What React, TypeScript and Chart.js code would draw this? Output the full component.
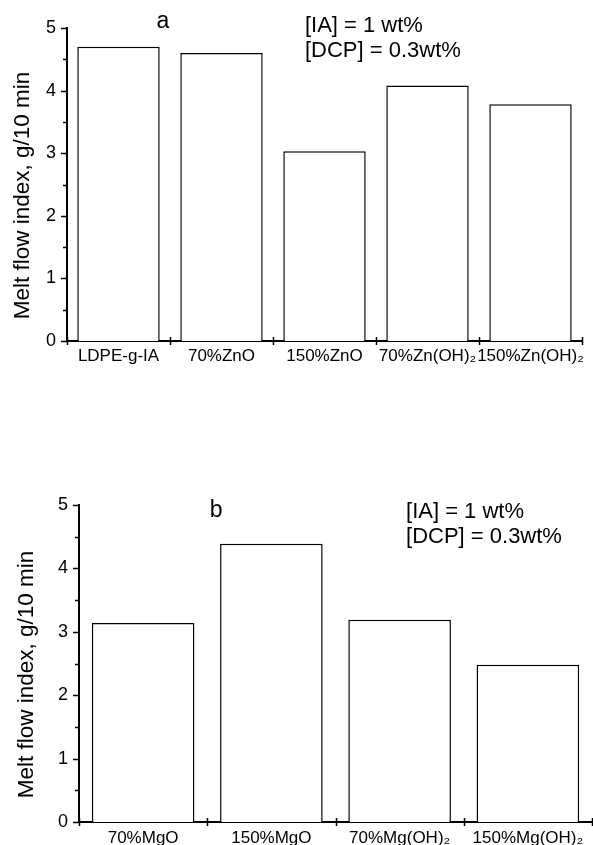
import React, { useEffect, useRef } from "react";
import { Chart, registerables } from "chart.js";

Chart.register(...registerables);

// ---------- data ----------
const categoriesA = ["LDPE-g-IA", "70%ZnO", "150%ZnO", "70%Zn(OH)\u2082", "150%Zn(OH)\u2082"];
const valuesA = [4.7, 4.6, 3.03, 4.08, 3.78];

const categoriesB = ["70%MgO", "150%MgO", "70%Mg(OH)\u2082", "150%Mg(OH)\u2082"];
const valuesB = [3.14, 4.39, 3.19, 2.48];

const yTickValues = [0, 0.5, 1, 1.5, 2, 2.5, 3, 3.5, 4, 4.5, 5];
const yAxisTitle = "Melt flow index, g/10 min";
const conditionLines = ["[IA] = 1 wt%", "[DCP] = 0.3wt%"];
const panelLetters = ["a", "b"];

const FONT = '"Liberation Sans", Arial, Helvetica, sans-serif';

type PanelLayout = {
  top: number;
  height: number;
  padTop: number;
  padRight: number;
  yWidth: number;
  xHeight: number;
  xPad: number;
  titleX: number;
  titleDy: number;
  letterIdx: number;
  letterDy: number;
  condIdx: number;
  condDy: number;
};

function makeDecor(letter: string, L: PanelLayout) {
  return {
    id: "decor-" + letter,
    afterDraw(chart: any) {
      const ctx = chart.ctx as CanvasRenderingContext2D;
      const xs = chart.scales.x;
      const ys = chart.scales.y;
      const area = chart.chartArea;
      ctx.save();
      ctx.strokeStyle = "#000";
      ctx.fillStyle = "#000";
      ctx.lineWidth = 1.5;
      // y ticks (major + minor)
      yTickValues.forEach((v) => {
        const py = Math.round(ys.getPixelForValue(v)) + 0.5;
        const len = Number.isInteger(v) ? 6 : 4;
        ctx.beginPath();
        ctx.moveTo(area.left - len, py);
        ctx.lineTo(area.left, py);
        ctx.stroke();
      });
      // x ticks at category boundaries (crossing the axis)
      const n = chart.data.labels.length;
      for (let i = 0; i <= n; i++) {
        const px = Math.round(xs.getPixelForValue(i - 0.5)) + 0.5;
        ctx.beginPath();
        ctx.moveTo(px, area.bottom - 4);
        ctx.lineTo(px, area.bottom + 4);
        ctx.stroke();
      }
      // panel letter
      ctx.font = `23px ${FONT}`;
      ctx.textAlign = "center";
      ctx.textBaseline = "alphabetic";
      ctx.fillText(letter, xs.getPixelForValue(L.letterIdx), area.top + L.letterDy);
      // condition text
      ctx.font = `22px ${FONT}`;
      ctx.textAlign = "left";
      conditionLines.forEach((t, i) => {
        ctx.fillText(t, xs.getPixelForValue(L.condIdx), area.top + L.condDy + i * 25);
      });
      // y axis title
      ctx.font = `22.5px ${FONT}`;
      ctx.translate(L.titleX, (area.top + area.bottom) / 2 + L.titleDy);
      ctx.rotate(-Math.PI / 2);
      ctx.textAlign = "center";
      ctx.textBaseline = "middle";
      ctx.fillText(yAxisTitle, 0, 0);
      ctx.restore();
    },
  };
}

function BarPanel(props: { labels: string[]; values: number[]; letter: string; layout: PanelLayout }) {
  const ref = useRef<HTMLCanvasElement>(null);
  const { labels, values, letter, layout } = props;
  useEffect(() => {
    if (!ref.current) return;
    const chart = new Chart(ref.current, {
      type: "bar",
      data: {
        labels,
        datasets: [
          {
            data: values,
            backgroundColor: "#ffffff",
            borderColor: "#000000",
            borderWidth: 1.5,
            barPercentage: 0.8,
            categoryPercentage: 1,
          },
        ],
      },
      options: {
        responsive: false,
        animation: false,
        events: [],
        layout: { padding: { left: 0, right: layout.padRight, top: layout.padTop, bottom: 0 } },
        plugins: { legend: { display: false }, tooltip: { enabled: false }, title: { display: false } },
        scales: {
          x: {
            type: "category",
            offset: true,
            grid: { display: false, drawTicks: false },
            border: { display: true, color: "#000", width: 2 },
            ticks: {
              color: "#000",
              font: { family: FONT, size: 17 },
              padding: layout.xPad,
              maxRotation: 0,
              minRotation: 0,
              autoSkip: false,
            },
            afterFit: (s: any) => {
              s.height = layout.xHeight;
            },
          },
          y: {
            min: 0,
            max: 5,
            grid: { display: false, drawTicks: false },
            border: { display: true, color: "#000", width: 2 },
            ticks: {
              color: "#000",
              font: { family: FONT, size: 18 },
              padding: 11,
              stepSize: 0.5,
              callback: (v: any) => (Number.isInteger(Number(v)) ? String(v) : ""),
            },
            afterFit: (s: any) => {
              s.width = layout.yWidth;
            },
          },
        },
      },
      plugins: [makeDecor(letter, layout)],
    } as any);
    return () => chart.destroy();
  }, []);
  return (
    <canvas
      ref={ref}
      width={593}
      height={layout.height}
      style={{ position: "absolute", left: 0, top: layout.top, width: 593, height: layout.height }}
    />
  );
}

const layoutA: PanelLayout = {
  top: 0,
  height: 420,
  padTop: 28,
  padRight: 11,
  yWidth: 67,
  xHeight: 79,
  xPad: 5,
  titleX: 23,
  titleDy: 11,
  letterIdx: 0.43,
  letterDy: 0,
  condIdx: 1.81,
  condDy: 4,
};

const layoutB: PanelLayout = {
  top: 420,
  height: 425,
  padTop: 85,
  padRight: 1,
  yWidth: 79,
  xHeight: 23,
  xPad: 6,
  titleX: 27,
  titleDy: 11,
  letterIdx: 0.57,
  letterDy: 12,
  condIdx: 2.05,
  condDy: 13,
};

export default function App() {
  return (
    <div style={{ position: "absolute", left: 0, top: 0, width: 593, height: 845, background: "#fff", overflow: "hidden" }}>
      <BarPanel labels={categoriesA} values={valuesA} letter={panelLetters[0]} layout={layoutA} />
      <BarPanel labels={categoriesB} values={valuesB} letter={panelLetters[1]} layout={layoutB} />
    </div>
  );
}
